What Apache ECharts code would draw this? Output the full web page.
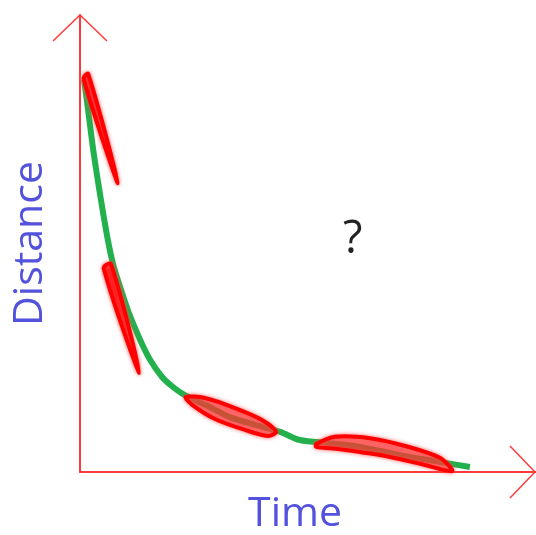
<!DOCTYPE html>
<html>
<head>
<meta charset="utf-8">
<script src="https://cdn.jsdelivr.net/npm/echarts@6/dist/echarts.min.js"></script>
<style>html,body{margin:0;padding:0;background:#fff}#c{width:536px;height:535px}</style>
</head>
<body>
<div id="c"></div>
<script>
// Green curve: [time, distance] (arbitrary units, 0-100)
const curveTime = [0.9, 1.5, 2.9, 4.6, 6.1, 7.2, 8.3, 10.5, 13.2, 15.4, 18.0, 20.4, 23.0, 28.5, 32.9, 38.4, 43.9, 48.2, 54.8, 61.4, 70.2, 78.9, 85.5];
const curveDist = [85.8, 81.4, 70.5, 59.5, 50.8, 45.7, 42.0, 35.4, 28.9, 24.5, 20.8, 18.6, 16.8, 14.2, 12.0, 10.3, 8.8, 7.0, 6.3, 5.5, 3.7, 2.2, 1.1];

// Hand-drawn red tangent strokes (outlines in data units)
const stroke1 = [[0.8, 86.0], [8.3, 63.2], [1.8, 87.1]];
const stroke2 = [[5.2, 44.6], [13.0, 21.7], [6.8, 45.5]];
const stroke3 = [[23.2, 16.4], [27.4, 16.2], [34.0, 14.0], [39.9, 11.4], [43.0, 8.8], [41.2, 7.9], [36.2, 9.2], [29.6, 11.6], [24.6, 14.7]];
const stroke4 = [[51.8, 6.1], [55.9, 7.7], [63.6, 7.4], [71.3, 5.7], [78.9, 3.1], [81.6, 0.2], [74.6, 1.8], [65.8, 3.7], [57.0, 5.0], [51.8, 5.5]];
const strokes = [stroke1, stroke2, stroke3, stroke4];

const xLabel = 'Time';
const yLabel = 'Distance';
const question = '?';

const chart = echarts.init(document.getElementById('c'));
const blue = '#5252dc';
const axisRed = '#ff3a3a';

const option = {
  animation: false,
  backgroundColor: '#ffffff',
  grid: { left: 80, right: 0, top: 15, bottom: 63, outerBoundsMode: 'none', containLabel: false },
  xAxis: {
    type: 'value', min: 0, max: 100,
    axisLine: { show: true, lineStyle: { color: axisRed, width: 2 } },
    axisTick: { show: false }, axisLabel: { show: false }, splitLine: { show: false },
    name: xLabel, nameLocation: 'middle', nameGap: 22,
    nameTextStyle: { color: blue, fontSize: 41, fontFamily: 'Open Sans', padding: [0, 26, 0, 0] }
  },
  yAxis: {
    type: 'value', min: 0, max: 100,
    axisLine: { show: true, lineStyle: { color: axisRed, width: 2 } },
    axisTick: { show: false }, axisLabel: { show: false }, splitLine: { show: false },
    name: yLabel, nameLocation: 'middle', nameGap: 29,
    nameTextStyle: { color: blue, fontSize: 41, fontFamily: 'Open Sans' }
  },
  series: [
    {
      type: 'line',
      data: curveTime.map((t, i) => [t, curveDist[i]]),
      smooth: 0.3,
      symbol: 'none',
      lineStyle: { color: '#22b14c', width: 6 },
      z: 2
    },
    {
      type: 'custom',
      data: strokes.map((s, i) => i),
      z: 3,
      renderItem: function (params, api) {
        const pts = strokes[params.dataIndex].map(p => api.coord(p));
        const thin = params.dataIndex < 2;
        return {
          type: 'polygon',
          shape: { points: pts, smooth: 0.3 },
          style: {
            fill: thin ? '#ff1010' : 'rgba(255,40,40,0.55)',
            stroke: '#ff0000',
            lineWidth: 4,
            lineJoin: 'round',
            shadowBlur: 4,
            shadowColor: 'rgba(255,80,80,0.8)'
          }
        };
      }
    }
  ]
};
chart.setOption(option);

// Open arrowheads at the ends of the axes
const yTop = chart.convertToPixel({ gridIndex: 0 }, [0, 100]);
const xEnd = chart.convertToPixel({ gridIndex: 0 }, [100, 0]);
chart.setOption({
  graphic: [
    { type: 'polyline', shape: { points: [[yTop[0] - 27, yTop[1] + 26], [yTop[0], yTop[1]], [yTop[0] + 27, yTop[1] + 26]] },
      style: { stroke: axisRed, lineWidth: 1.5, fill: null } },
    { type: 'polyline', shape: { points: [[xEnd[0] - 26, xEnd[1] - 26], [xEnd[0] - 1, xEnd[1]], [xEnd[0] - 26, xEnd[1] + 26]] },
      style: { stroke: axisRed, lineWidth: 1.5, fill: null } },
    { type: 'text', left: 343, top: 218,
      style: { text: question, fill: '#222222', fontSize: 45, fontFamily: 'Open Sans' } }
  ]
});
</script>
</body>
</html>
